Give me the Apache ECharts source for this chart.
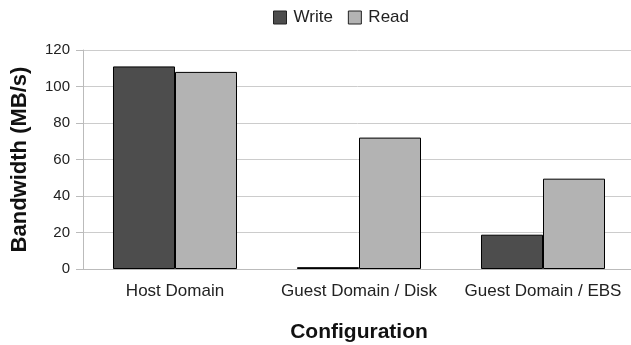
<!DOCTYPE html>
<html>
<head>
<meta charset="utf-8">
<script src="https://cdn.jsdelivr.net/npm/echarts@6/dist/echarts.min.js"></script>
<style>
  html, body { margin: 0; padding: 0; background: #fff; }
  #chart { width: 631px; height: 345px; }
</style>
</head>
<body>
<div id="chart"></div>
<script>
// 数据
const categories = ['Host Domain', 'Guest Domain / Disk', 'Guest Domain / EBS']
const writeValues = [111, 1, 18.8]
const readValues = [108, 72, 49.5]
const yTicks = [0, 20, 40, 60, 80, 100, 120]

const myChart = echarts.init(document.getElementById('chart'))
const font = 'Liberation Sans, Arial, sans-serif'

myChart.setOption({
  animation: false,
  textStyle: { fontFamily: font },
  legend: {
    data: ['Write', 'Read'],
    top: 4,
    left: 268,
    icon: 'rect',
    itemWidth: 13,
    itemHeight: 13,
    itemGap: 15,
    itemStyle: { borderColor: '#222', borderWidth: 1 },
    textStyle: { fontSize: 17, color: '#222', fontFamily: font, padding: [0, 0, 0, 2] }
  },
  grid: { left: 83, right: -4, top: 50, bottom: 76, outerBoundsMode: 'none', containLabel: false },
  xAxis: {
    type: 'category',
    data: categories,
    name: 'Configuration',
    nameLocation: 'middle',
    nameGap: 53,
    nameTextStyle: { fontSize: 21, fontWeight: 'bold', color: '#111', fontFamily: font },
    axisLine: { lineStyle: { color: '#bbb' } },
    axisTick: { alignWithLabel: true, length: 8, lineStyle: { color: '#ccc' } },
    axisLabel: { interval: 0, fontSize: 17, color: '#222', margin: 14, fontFamily: font }
  },
  yAxis: {
    type: 'value',
    min: yTicks[0],
    max: yTicks[yTicks.length - 1],
    interval: 20,
    name: 'Bandwidth (MB/s)',
    nameLocation: 'middle',
    nameGap: 52,
    nameTextStyle: { fontSize: 22, fontWeight: 'bold', color: '#111', fontFamily: font },
    axisLine: { show: true, lineStyle: { color: '#bbb' } },
    axisTick: { show: true, length: 7, lineStyle: { color: '#bbb' } },
    axisLabel: { fontSize: 15, color: '#222', margin: 13, fontFamily: font },
    splitLine: { lineStyle: { color: '#ccc' } }
  },
  series: [
    {
      name: 'Write',
      type: 'bar',
      data: writeValues,
      barGap: '0%',
      barCategoryGap: '32.6%',
      itemStyle: { color: '#4d4d4d', borderColor: '#000', borderWidth: 1 }
    },
    {
      name: 'Read',
      type: 'bar',
      data: readValues,
      itemStyle: { color: '#b3b3b3', borderColor: '#000', borderWidth: 1 }
    }
  ]
})
</script>
</body>
</html>
